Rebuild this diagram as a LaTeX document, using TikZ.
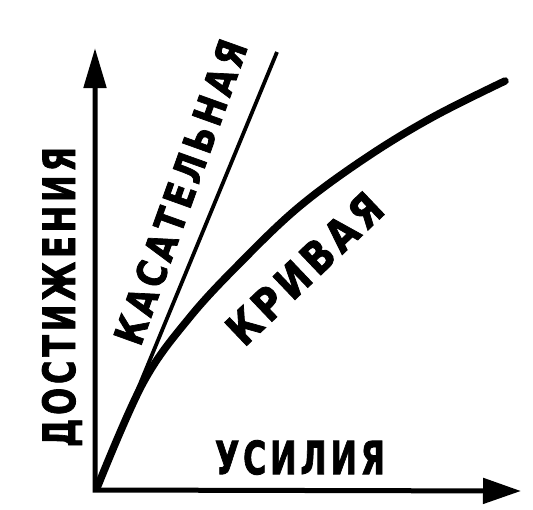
\documentclass[tikz,border=0pt]{standalone}
\usepackage{fontspec}
\usepackage{graphicx}
\usetikzlibrary{arrows.meta}
\newfontfamily\lblfont{DejaVu Sans}[LetterSpace=12,FakeBold=2]
\newcommand\fitlbl[3]{\resizebox{#1}{#2}{\lblfont\bfseries #3}}
\tikzset{
  axisline/.style={line width=5pt, line join=miter,
    {Triangle[length=40pt,width=22pt]}-{Triangle[length=38pt,width=25pt]}},
  tangentline/.style={line width=3.8pt},
  curveline/.style={line width=7.5pt, line cap=round},
  lbl/.style={inner sep=0pt, outer sep=0pt}
}
\begin{document}
\begin{tikzpicture}[x=1pt,y=-1pt]
\fill[white] (0,0) rectangle (533,509);
\useasboundingbox (0,0) rectangle (533,509);
\coordinate (O) at (95,490);
\coordinate (ytop) at (95,48);
\coordinate (xend) at (521,491);
\coordinate (T) at (277,52);
\coordinate (cend) at (505,81);
% curve
\draw[curveline] plot[smooth,tension=0.6] coordinates {(97,488) (143,383) (190,317) (243,260) (300,206) (367,157) (433,117) (cend)};
% tangent
\draw[tangentline] (97,488) -- (T);
% axes
\draw[axisline] (ytop) -- (O) -- (xend);
% labels
\node[lbl, rotate=90, anchor=base] (dost) at (75,297) {\fitlbl{300pt}{33pt}{ДОСТИЖЕНИЯ}};
\node[lbl, rotate=70.3] (kas) at (180.5,192) {\fitlbl{320pt}{30pt}{КАСАТЕЛЬНАЯ}};
\node[lbl, rotate=43.6] (kriv) at (304.5,268.5) {\fitlbl{197pt}{32pt}{КРИВАЯ}};
\node[lbl] (usil) at (300,457.5) {\fitlbl{170pt}{34pt}{УСИЛИЯ}};
\end{tikzpicture}
\end{document}
